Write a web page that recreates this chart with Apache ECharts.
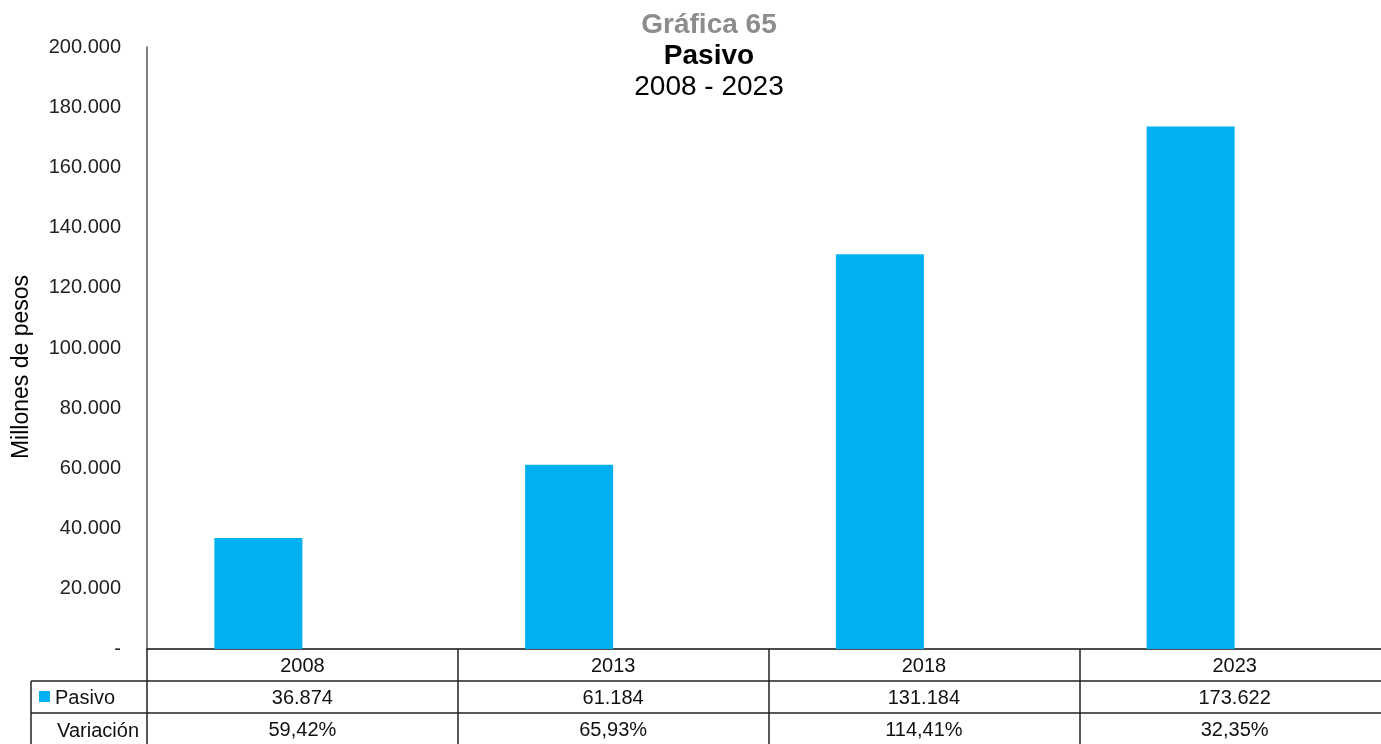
<!DOCTYPE html>
<html><head><meta charset="utf-8">
<script src="https://cdn.jsdelivr.net/npm/echarts@6/dist/echarts.min.js"></script>
<style>html,body{margin:0;padding:0;background:#fff}#c{width:1381px;height:744px}</style>
</head><body><div id="c"></div>
<script>
const categories = ['2008', '2013', '2018', '2023'];
const pasivo = [36874, 61184, 131184, 173622];
const variacion = [59.42, 65.93, 114.41, 32.35];
const pasivoLabels = ['36.874', '61.184', '131.184', '173.622'];
const variacionLabels = ['59,42%', '65,93%', '114,41%', '32,35%'];

const FONT = 'Liberation Sans, Arial, sans-serif';
const chart = echarts.init(document.getElementById('c'));
function fmt(v){ if(v===0) return '-'; return String(v).replace(/\B(?=(\d{3})+(?!\d))/g,'.'); }

chart.setOption({
  animation: false,
  textStyle: {fontFamily: FONT},
  title: [
    {text: 'Gráfica 65', left: 704, textAlign: 'center', top: 6, textStyle: {fontSize: 28, fontWeight: 'bold', color: '#8c8c8c', fontFamily: FONT}},
    {text: 'Pasivo', left: 704, textAlign: 'center', top: 37, textStyle: {fontSize: 28, fontWeight: 'bold', color: '#000', fontFamily: FONT}},
    {text: '2008 - 2023', left: 704, textAlign: 'center', top: 68, textStyle: {fontSize: 28, fontWeight: 'normal', color: '#000', fontFamily: FONT}}
  ],
  grid: {left: 147, right: -9, top: 47, bottom: 95, containLabel: false, outerBoundsMode: 'none'},
  xAxis: {
    type: 'category', data: categories,
    axisLine: {lineStyle: {color: '#111', width: 1.5}},
    axisTick: {show: true, alignWithLabel: false, length: 95, inside: false, lineStyle: {color: '#222', width: 1.5}},
    axisLabel: {
      margin: 1, interval: 0,
      formatter: function(v, i){ return '{a|' + v + '}\n{a|' + pasivoLabels[i] + '}\n{a|' + variacionLabels[i] + '}'; },
      rich: {a: {fontSize: 20, lineHeight: 32, color: '#111', fontFamily: FONT, align: 'center'}}
    }
  },
  yAxis: [
    {
      type: 'value', min: 0, max: 200000, interval: 20000,
      axisLine: {show: true, lineStyle: {color: '#555', width: 1.5}},
      axisTick: {show: false},
      splitLine: {show: false},
      axisLabel: {formatter: fmt, fontSize: 20, color: '#222', margin: 26, fontFamily: FONT}
    },
    {type: 'value', show: false, min: 0, max: 100000}
  ],
  series: [
    {name: 'Pasivo', type: 'bar', data: pasivo, barWidth: 88, barGap: '0%', itemStyle: {color: '#00B0F0'}},
    {name: 'Variación', type: 'bar', yAxisIndex: 1, data: variacion, barWidth: 88, itemStyle: {color: 'rgba(0,0,0,0)'}, silent: true}
  ],
  graphic: [
    {type: 'text', x: 22, y: 367, rotation: Math.PI / 2, style: {text: 'Millones de pesos', fontSize: 23, fill: '#000', fontFamily: FONT, align: 'center', verticalAlign: 'middle'}},
    {type: 'line', shape: {x1: 31, y1: 681, x2: 1381, y2: 681}, style: {stroke: '#222', lineWidth: 1.5}},
    {type: 'line', shape: {x1: 31, y1: 713, x2: 1381, y2: 713}, style: {stroke: '#222', lineWidth: 1.5}},
    {type: 'line', shape: {x1: 31, y1: 681, x2: 31, y2: 744}, style: {stroke: '#222', lineWidth: 1.5}},
    {type: 'rect', shape: {x: 39, y: 691, width: 11, height: 11}, style: {fill: '#00B0F0'}},
    {type: 'text', x: 55, y: 698, style: {text: 'Pasivo', fontSize: 20, fill: '#111', fontFamily: FONT, verticalAlign: 'middle'}},
    {type: 'text', x: 139, y: 731, style: {text: 'Variación', fontSize: 20, fill: '#111', fontFamily: FONT, verticalAlign: 'middle', align: 'right'}}
  ]
});
</script></body></html>
